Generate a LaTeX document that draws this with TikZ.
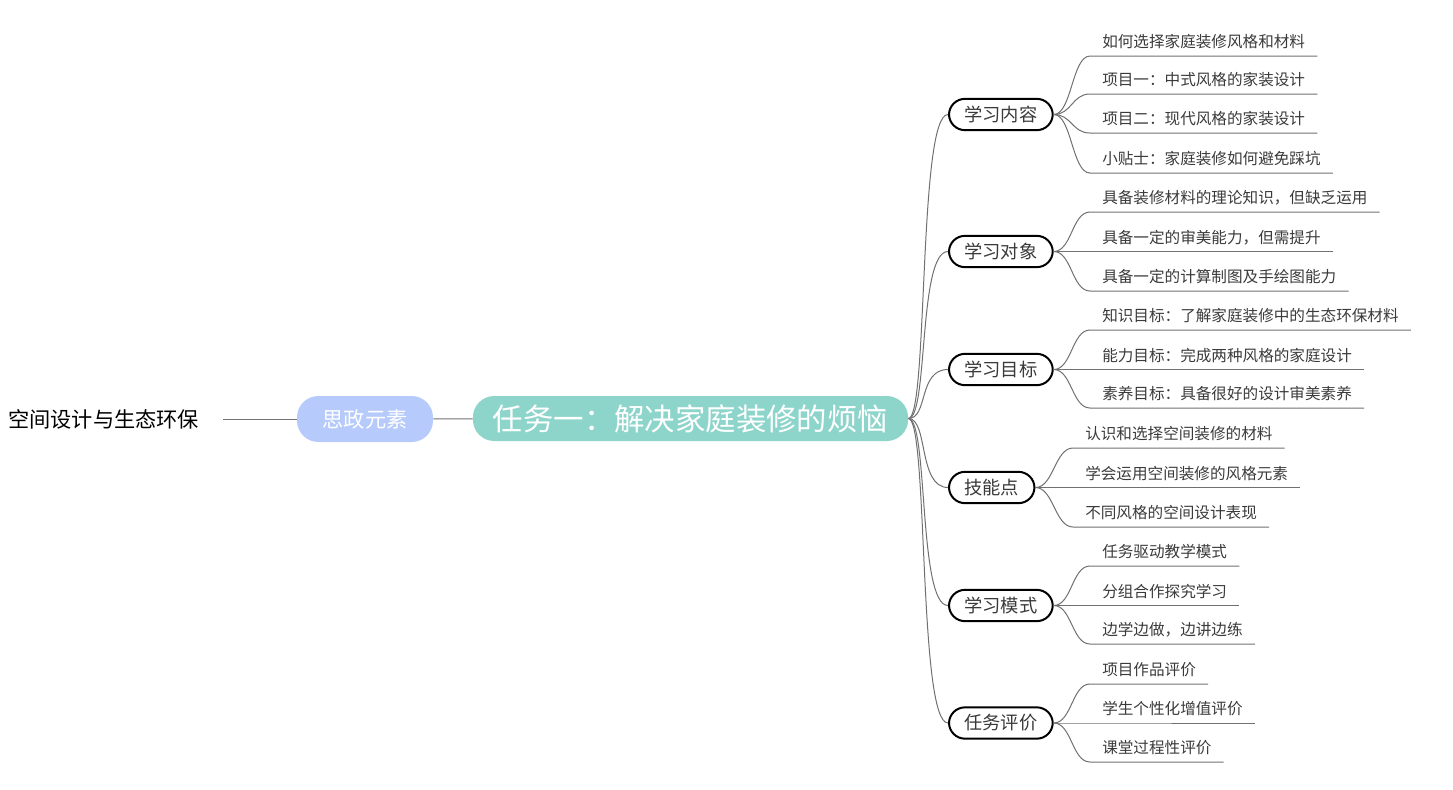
\documentclass[tikz,border=0pt]{standalone}
\usepackage{fontspec}
\setmainfont{Noto Sans CJK SC}
\definecolor{rootteal}{HTML}{8DD5CB}
\definecolor{szblue}{HTML}{B6CBFB}
\definecolor{linegray}{HTML}{707070}
\definecolor{leaftext}{HTML}{3A3A3A}
\tikzset{
  link/.style={draw=linegray,line width=0.75pt},
  rootbox/.style={fill=rootteal,text=white,rounded corners=16pt,minimum height=33.75pt,inner xsep=15pt,font=\fontsize{22.8}{26}\selectfont},
  szbox/.style={fill=szblue,text=white,rounded corners=16pt,minimum height=34.5pt,minimum width=102pt,font=\fontsize{15.9}{18}\selectfont},
  subbox/.style={anchor=west,draw=black,fill=white,text=leaftext,line width=1.5pt,rounded corners=12pt,minimum height=23.5pt,inner xsep=11.5pt,font=\fontsize{13.7}{16}\selectfont},
  leaf/.style={anchor=south west,text=leaftext,inner xsep=9pt,inner ysep=0pt,text height=9pt,text depth=6pt,font=\fontsize{11.7}{14}\selectfont}
}
\begin{document}
\begin{tikzpicture}[x=0.75pt,y=-0.75pt]
    \useasboundingbox (0,0) rectangle (1453,789);
    \node[anchor=west,inner sep=0pt,font=\fontsize{15.9}{18}\selectfont] (topic) at (8,419) {空间设计与生态环保};
    \node[szbox] (sz) at (365,419) {思政元素};
    \node[rootbox] (root) at (690.5,418.5) {任务一：解决家庭装修的烦恼};
    \draw[link,shorten <=18pt] (topic) -- (sz);
    \draw[link] (sz) -- (root);
    % second level
    \node[subbox] (a) at (948,114.5) {学习内容};
    \node[subbox] (b) at (948,251.5) {学习对象};
    \node[subbox] (c) at (948,369.5) {学习目标};
    \node[subbox] (d) at (948,487.5) {技能点};
    \node[subbox] (e) at (948,605.5) {学习模式};
    \node[subbox] (f) at (948,723) {任务评价};
    \foreach \n in {a,b,c,d,e,f}
        \draw[link] (root.east) .. controls +(20,0) and +(-30,0) .. (\n.west);
    % leaves
    \node[leaf] (a1) at (1090,56) {如何选择家庭装修风格和材料};
    \node[leaf] (a2) at (1090,94) {项目一：中式风格的家装设计};
    \node[leaf] (a3) at (1090,133) {项目二：现代风格的家装设计};
    \node[leaf] (a4) at (1090,173) {小贴士：家庭装修如何避免踩坑};
    \node[leaf] (b1) at (1090,212) {具备装修材料的理论知识，但缺乏运用};
    \node[leaf] (b2) at (1090,251.5) {具备一定的审美能力，但需提升};
    \node[leaf] (b3) at (1090,291) {具备一定的计算制图及手绘图能力};
    \node[leaf] (c1) at (1090,330) {知识目标：了解家庭装修中的生态环保材料};
    \node[leaf] (c2) at (1090,369.5) {能力目标：完成两种风格的家庭设计};
    \node[leaf] (c3) at (1090,408) {素养目标：具备很好的设计审美素养};
    \node[leaf] (d1) at (1073,448) {认识和选择空间装修的材料};
    \node[leaf] (d2) at (1073,487.5) {学会运用空间装修的风格元素};
    \node[leaf] (d3) at (1073,527) {不同风格的空间设计表现};
    \node[leaf] (e1) at (1090,566) {任务驱动教学模式};
    \node[leaf] (e2) at (1090,605.5) {分组合作探究学习};
    \node[leaf] (e3) at (1090,644) {边学边做，边讲边练};
    \node[leaf] (f1) at (1090,684) {项目作品评价};
    \node[leaf] (f2) at (1090,723) {学生个性化增值评价};
    \node[leaf] (f3) at (1090,762) {课堂过程性评价};
    \foreach \p/\c in {a/a1,a/a2,a/a3,a/a4,b/b1,b/b2,b/b3,c/c1,c/c2,c/c3,d/d1,d/d2,d/d3,e/e1,e/e2,e/e3,f/f1,f/f2,f/f3}
        \draw[link] (\p.east) .. controls +(18,0) and +(-18,0) .. (\c.south west) -- (\c.south east);
\end{tikzpicture}
\end{document}
